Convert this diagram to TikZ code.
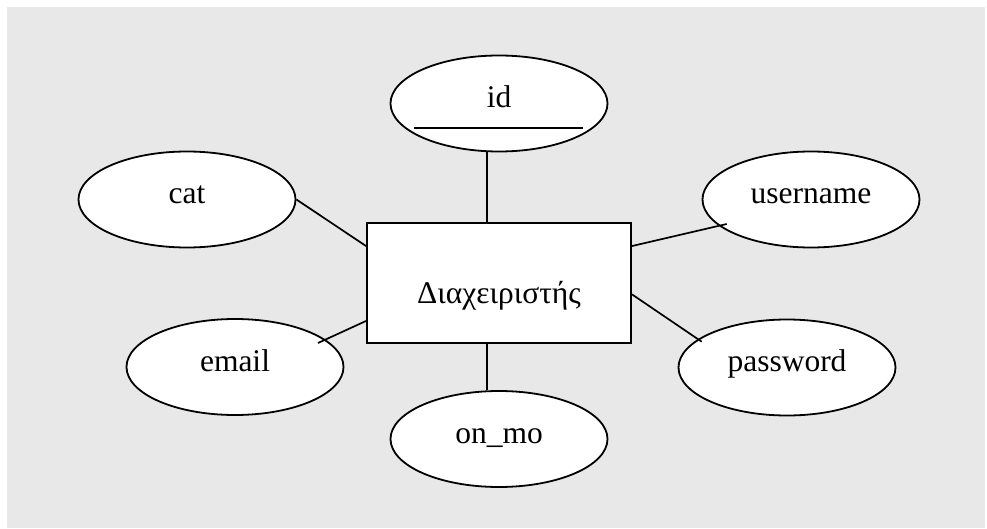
\documentclass[tikz,border=0pt]{standalone}
\usepackage{fontspec}
\setmainfont{Liberation Serif}
\usetikzlibrary{shapes.geometric}
\definecolor{bggray}{RGB}{232,232,232}
\begin{document}
\begin{tikzpicture}[x=1pt,y=-1pt,
  attr/.style={ellipse,draw,fill=white,line width=1.8pt,inner sep=0pt,
    minimum width=217pt,minimum height=96pt,text height=8pt,text depth=0pt,
    font=\fontsize{31.5}{38}\selectfont},
  entbox/.style={rectangle,draw,fill=white,line width=1.9pt,inner sep=0pt,
    minimum width=264pt,minimum height=120pt,text height=40pt,text depth=0pt,
    font=\fontsize{31.5}{38}\selectfont},
  conn/.style={line width=1.7pt}]
\useasboundingbox (0,0) rectangle (987,529);
\fill[bggray] (7,7) rectangle (985,528);
% attributes
\node[attr] (id) at (499,103.5) {id};
\node[attr] (cat) at (187,199.5) {cat};
\node[attr] (username) at (811,199.5) {username};
\node[attr] (email) at (235,367) {email};
\node[attr] (password) at (787,367.5) {password};
\node[attr] (onmo) at (499,439) {on\_mo};
% key underline
\draw[conn] ([shift={(-85,24.5)}]id.center) -- ([shift={(84,24.5)}]id.center);
% entity
\node[entbox] (ent) at (499,283.3) {Διαχειριστής};
% connectors
\draw[conn] ([xshift=-12pt]id.south) -- ([xshift=-12pt]ent.north);
\draw[conn] ([xshift=-12pt]ent.south) -- ([xshift=-12pt]onmo.north);
\draw[conn] (cat.east) -- ([shift={(0,23.7)}]ent.north west);
\draw[conn] ([shift={(0,-23.3)}]ent.south west) -- ([shift={(83,-24)}]email.center);
\draw[conn] ([shift={(0,23.7)}]ent.north east) -- ([shift={(-84.3,24.5)}]username.center);
\draw[conn] ([shift={(0,72)}]ent.north east) -- ([shift={(-85.3,-25.8)}]password.center);
\end{tikzpicture}
\end{document}
